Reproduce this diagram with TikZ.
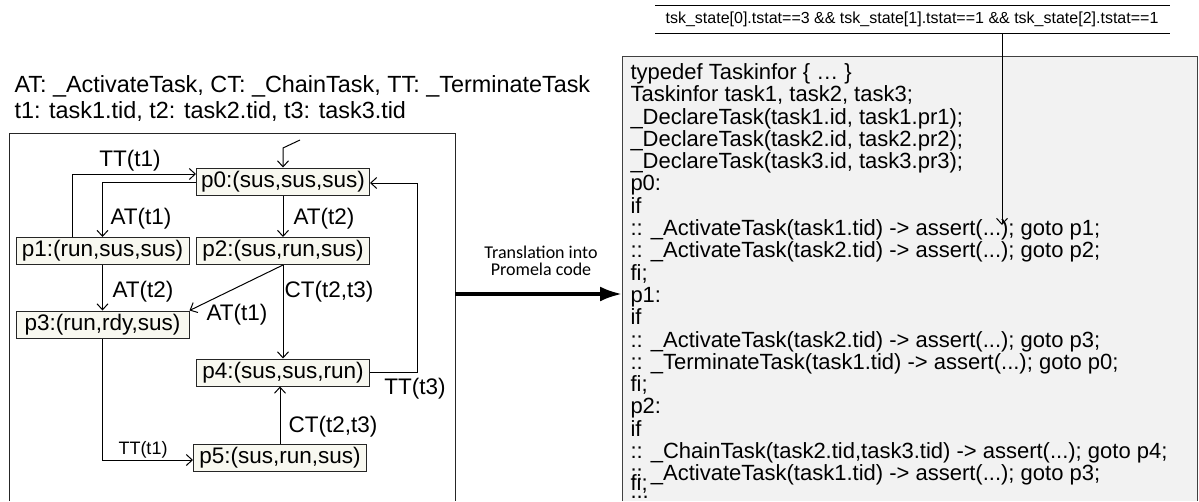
\documentclass[tikz,border=0pt]{standalone}
\usepackage{fontspec}
\setmainfont{Liberation Sans}
\newfontfamily\transfont{Carlito}
\usepackage{xcolor}
\usetikzlibrary{arrows.meta}
\definecolor{statefill}{RGB}{248,248,240}
\definecolor{codefill}{RGB}{242,242,242}
\tikzset{>={Straight Barb[length=6pt,width=11pt]},
    state/.style={draw=black!85, fill=statefill, minimum width=173pt, minimum height=27pt, inner sep=0pt, font=\fontsize{22.5}{22.5}\selectfont},
    lbl/.style={inner sep=0pt, font=\fontsize{22.5}{22.5}\selectfont},
    hdr/.style={inner sep=0pt, anchor=west, font=\fontsize{23.4}{23.4}\selectfont}}

\begin{document}
\begin{tikzpicture}[x=1pt, y=-1pt, line width=1pt]
    \useasboundingbox (0,0) rectangle (1199,501);
    % legend and left frame
    \node[hdr] at (14,86) (legend1) {AT: \_ActivateTask, CT: \_ChainTask, TT: \_TerminateTask};
    \node[hdr] at (14,112) (legend2) {t1: task1.tid, t2: task2.tid, t3: task3.tid};
    \draw[black!85] (9,501) -- (9,133) -- (455,133) -- (455,501);
    % states
    \node[state] at (283,181.5) (p0) {p0:(sus,sus,sus)};
    \node[state] at (102.5,251) (p1) {p1:(run,sus,sus)};
    \node[state] at (283,251) (p2) {p2:(sus,run,sus)};
    \node[state] at (102.5,324.5) (p3) {p3:(run,rdy,sus)};
    \node[state] at (283,372.5) (p4) {p4:(sus,sus,run)};
    \node[state] at (280,457.5) (p5) {p5:(sus,run,sus)};
    \coordinate (init) at (300,140);
    \coordinate (initbend) at (283,148);
    \coordinate (tt1) at (72,174);
    \coordinate (at1) at (102.5,182);
    \coordinate (tt3) at (417,372.5);
    \coordinate (tt3top) at (417,183);
    \coordinate (tt1b) at (102.5,460);
    \draw[->] (init) -- (initbend) -- (p0.north);
    \draw[->] (tt1 |- p1.north) -- (tt1) -- (tt1 -| p0.west);
    \draw[->] (at1 -| p0.west) -- (at1) -- (at1 |- p1.north);
    \draw[->] (p0.south) -- (p2.north);
    \draw[->] (p1.south) -- (p3.north);
    \draw[->] (p2.south) -- (p3.north east);
    \draw[->] (p2.south) -- (p4.north);
    \draw[->] (p4.east) -- (tt3) -- (tt3top) -- (tt3top -| p0.east);
    \draw[->] (p3.south) -- (tt1b) -- (tt1b -| p5.west);
    \draw[->] (p5.north) -- (p5.north |- p4.south);
    \node[lbl] at (130,161) (ltt1) {TT(t1)};
    \node[lbl] at (141,219) (lat1) {AT(t1)};
    \node[lbl] at (324,219) (lat2) {AT(t2)};
    \node[lbl] at (143,292) (lat2b) {AT(t2)};
    \node[lbl] at (329,292) (lct) {CT(t2,t3)};
    \node[lbl] at (237,315) (lat1b) {AT(t1)};
    \node[lbl] at (415,389) (ltt3) {TT(t3)};
    \node[lbl] at (333,427) (lctb) {CT(t2,t3)};
    \node[inner sep=0pt, font=\fontsize{18}{18}\selectfont] at (143,450) (ltt1b) {TT(t1)};
    % translation arrow
    \coordinate (frameE) at (455,294);
    \coordinate (codeW) at (622,294);
    \node[align=center, font=\transfont\fontsize{18}{16.5}\selectfont] at (541,261) (trans) {Translation into\\Promela code};
    \draw[line width=3.5pt, -{Latex[length=22pt,width=15pt]}] (frameE) -- (codeW);
    % promela code
    \filldraw[fill=codefill, draw=black!75] (622,501) -- (622,56) -- (1197,56) -- (1197,501);
    \node[anchor=north west, align=left, inner sep=0pt, font=\fontsize{22}{22.3}\selectfont] at (630,63) (code) {%
      typedef Taskinfor \{ … \}\\
      Taskinfor task1, task2, task3;\\
      \_DeclareTask(task1.id, task1.pr1);\\
      \_DeclareTask(task2.id, task2.pr2);\\
      \_DeclareTask(task3.id, task3.pr3);\\
      p0:\\
      if\\
      :: \_ActivateTask(task1.tid) -> assert(...); goto p1;\\
      :: \_ActivateTask(task2.tid) -> assert(...); goto p2;\\
      fi;\\
      p1:\\
      if\\
      :: \_ActivateTask(task2.tid) -> assert(...); goto p3;\\
      :: \_TerminateTask(task1.tid) -> assert(...); goto p0;\\
      fi;\\
      p2:\\
      if\\
      :: \_ChainTask(task2.tid,task3.tid) -> assert(...); goto p4;\\
      :: \_ActivateTask(task1.tid) -> assert(...); goto p3;\\[-13pt]
      fi;\\[-14pt]
      ...};
    % condition bar
    \node[inner sep=0pt, font=\fontsize{16}{16}\selectfont] at (912,19) (cond) {tsk\_state[0].tstat==3 \&\& tsk\_state[1].tstat==1 \&\& tsk\_state[2].tstat==1};
    \draw (655,5) -- (1170,5);
    \draw (655,33) -- (1170,33);
    \coordinate (condfoot) at (1002,33);
    \coordinate (assertdots) at (1002,225);
    \draw[->] (condfoot) -- (assertdots);
\end{tikzpicture}
\end{document}
